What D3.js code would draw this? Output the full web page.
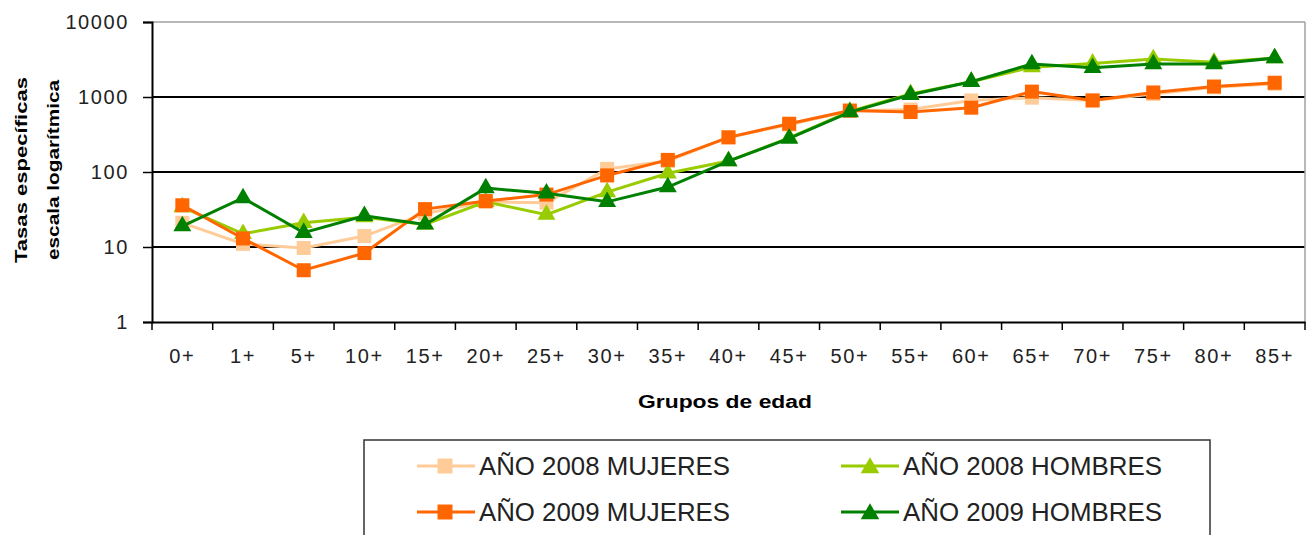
<!DOCTYPE html>
<html>
<head>
<meta charset="utf-8">
<script src="https://cdn.jsdelivr.net/npm/d3@7"></script>
<style>
  body { margin: 0; background: #fff; }
  svg { display: block; }
</style>
</head>
<body>
<svg id="chart" width="1316" height="535"></svg>
<script>
const width = 1316
const height = 535

// age groups
const categories = ["0+","1+","5+","10+","15+","20+","25+","30+","35+","40+","45+","50+","55+","60+","65+","70+","75+","80+","85+"]
const yTicks = [1, 10, 100, 1000, 10000]

// rates (log scale)
const mujeres2008 = [21, 11, 9.7, 14, 28, 40, 39, 110, 140, 290, 430, 650, 680, 900, 980, 900, 1100, 1350, 1500]
const hombres2008 = [34, 15, 21, 25, 20, 40, 27, 54, 96, 140, 285, 640, 1100, 1600, 2500, 2800, 3200, 2900, 3300]
const mujeres2009 = [36, 13, 4.9, 8.3, 32, 41, 50, 90, 145, 290, 440, 660, 630, 720, 1180, 900, 1150, 1380, 1550]
const hombres2009 = [19, 45, 15.5, 26, 20, 61, 52, 40, 63, 140, 280, 630, 1070, 1600, 2750, 2450, 2750, 2750, 3300]

const seriesNames = ["AÑO 2008 MUJERES", "AÑO 2008 HOMBRES", "AÑO 2009 MUJERES", "AÑO 2009 HOMBRES"]
const seriesColors = ["#FFCC99", "#99CC00", "#FF6600", "#008000"]

const series = [
  {name: seriesNames[0], values: mujeres2008, color: seriesColors[0], shape: d3.symbolSquare},
  {name: seriesNames[1], values: hombres2008, color: seriesColors[1], shape: d3.symbolTriangle},
  {name: seriesNames[2], values: mujeres2009, color: seriesColors[2], shape: d3.symbolSquare},
  {name: seriesNames[3], values: hombres2009, color: seriesColors[3], shape: d3.symbolTriangle}
]

const plot = {left: 152, right: 1305, top: 22, bottom: 322}

const svg = d3.select("#chart")

const x = d3.scaleBand()
  .domain(categories)
  .range([plot.left, plot.right])

const y = d3.scaleLog()
  .domain([1, 10000])
  .range([plot.bottom, plot.top])

// gridlines
svg.append("g")
  .selectAll("line")
  .data(yTicks.slice(1))
  .join("line")
    .attr("x1", plot.left)
    .attr("x2", plot.right)
    .attr("y1", d => y(d))
    .attr("y2", d => y(d))
    .attr("stroke", d => d === 10000 ? "#a0a0a0" : "#000")
    .attr("stroke-width", d => d === 10000 ? 1.5 : 2)

// right border
svg.append("line")
  .attr("x1", plot.right).attr("x2", plot.right)
  .attr("y1", plot.top).attr("y2", plot.bottom)
  .attr("stroke", "#a0a0a0")
  .attr("stroke-width", 1.5)

// y axis
const yAxis = svg.append("g")
  .attr("transform", `translate(${plot.left},0)`)
  .call(d3.axisLeft(y).tickValues(yTicks).tickFormat(d3.format("d")).tickSize(9).tickPadding(14))
yAxis.select(".domain").attr("stroke-width", 2)
yAxis.selectAll(".tick line").attr("stroke-width", 1.5)
yAxis.selectAll("text")
  .attr("font-family", "Liberation Sans, Arial, sans-serif")
  .attr("font-size", 20)
  .attr("letter-spacing", 1.6)
  .attr("fill", "#222")

// x axis, ticks at band edges
const xAxis = svg.append("g")
  .attr("transform", `translate(0,${plot.bottom})`)
  .call(d3.axisBottom(x).tickSize(0).tickPadding(27))
xAxis.select(".domain").attr("stroke-width", 2)
xAxis.selectAll("text")
  .attr("font-family", "Liberation Sans, Arial, sans-serif")
  .attr("font-size", 20)
  .attr("letter-spacing", 1.6)
  .attr("fill", "#222")

const edges = categories.map(c => x(c)).concat([plot.right])
xAxis.selectAll(".edge")
  .data(edges)
  .join("line")
    .attr("class", "edge")
    .attr("x1", d => d).attr("x2", d => d)
    .attr("y1", 0).attr("y2", 8)
    .attr("stroke", "#000")
    .attr("stroke-width", 1.5)

// axis titles
svg.append("text")
  .attr("x", 725)
  .attr("y", 408)
  .attr("text-anchor", "middle")
  .attr("font-family", "Liberation Sans, Arial, sans-serif")
  .attr("font-weight", "bold")
  .attr("font-size", 18)
  .attr("textLength", 174)
  .attr("lengthAdjust", "spacingAndGlyphs")
  .text("Grupos de edad")

const yTitle = svg.append("g")
  .attr("transform", "translate(0,170) rotate(-90)")
  .attr("font-family", "Liberation Sans, Arial, sans-serif")
  .attr("font-weight", "bold")
  .attr("font-size", 17)
  .attr("text-anchor", "middle")
yTitle.append("text")
  .attr("x", 0).attr("y", 27)
  .attr("textLength", 186)
  .attr("lengthAdjust", "spacingAndGlyphs")
  .text("Tasas específicas")
yTitle.append("text")
  .attr("x", 0).attr("y", 59)
  .attr("textLength", 180)
  .attr("lengthAdjust", "spacingAndGlyphs")
  .text("escala logarítmica")

// lines and markers
const line = d3.line()
  .x((d, i) => x(categories[i]) + x.bandwidth() / 2)
  .y(d => y(d))

const symSize = s => s === d3.symbolSquare ? 196 : 140

series.forEach(s => {
  const g = svg.append("g")
  g.append("path")
    .datum(s.values)
    .attr("d", line)
    .attr("fill", "none")
    .attr("stroke", s.color)
    .attr("stroke-width", 3)
  g.selectAll("path.mark")
    .data(s.values)
    .join("path")
      .attr("class", "mark")
      .attr("d", d3.symbol().type(s.shape).size(symSize(s.shape)))
      .attr("transform", (d, i) => `translate(${x(categories[i]) + x.bandwidth() / 2},${y(d)})`)
      .attr("fill", s.color)
})

// legend
const legend = svg.append("g")
legend.append("rect")
  .attr("x", 364)
  .attr("y", 440)
  .attr("width", 846)
  .attr("height", 110)
  .attr("fill", "none")
  .attr("stroke", "#333")
  .attr("stroke-width", 1.5)

const legendX = [417, 841, 417, 841]
const legendY = [466, 466, 512, 512]

series.forEach((s, i) => {
  const lg = legend.append("g")
    .attr("transform", `translate(${legendX[i]},${legendY[i]})`)
  lg.append("line")
    .attr("x1", 0).attr("x2", 58)
    .attr("stroke", s.color)
    .attr("stroke-width", 3)
  lg.append("path")
    .attr("d", d3.symbol().type(s.shape).size(s.shape === d3.symbolSquare ? 225 : 150))
    .attr("transform", `translate(${s.shape === d3.symbolSquare ? 28 : 29},${s.shape === d3.symbolSquare ? 0 : 2})`)
    .attr("fill", s.color)
  lg.append("text")
    .attr("x", 62)
    .attr("y", 9)
    .attr("font-family", "Liberation Sans, Arial, sans-serif")
    .attr("font-size", 25)
    .attr("fill", "#222")
    .attr("textLength", i % 2 ? 259 : 251)
    .attr("lengthAdjust", "spacingAndGlyphs")
    .text(s.name)
})
</script>
</body>
</html>
